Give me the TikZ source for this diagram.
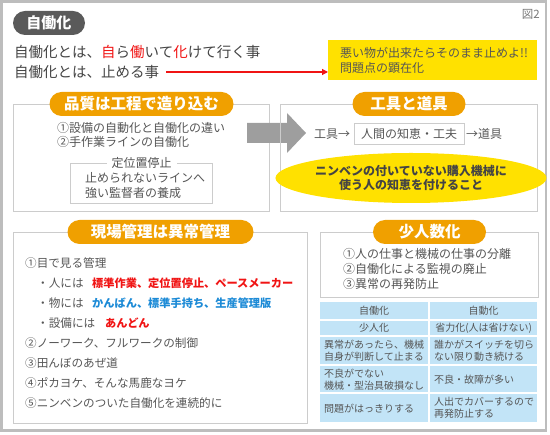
\documentclass[tikz,border=0pt]{standalone}
\usepackage{fontspec}
\setmainfont{Noto Sans CJK JP}
\usetikzlibrary{positioning, arrows.meta, shapes.geometric}

\definecolor{textgray}{HTML}{555555}
\definecolor{framegray}{HTML}{CCCCCC}
\definecolor{outergray}{HTML}{BDBDBD}
\definecolor{pillorange}{HTML}{F0A000}
\definecolor{tagdark}{HTML}{5A5A5A}
\definecolor{warnyellow}{HTML}{FFE100}
\definecolor{cellblue}{HTML}{C2E4F7}
\definecolor{keyred}{HTML}{F01414}
\definecolor{keyblue}{HTML}{1C8AD6}
\definecolor{arrowgray}{HTML}{9E9E9E}

\tikzset{
    sect/.style={draw=framegray, line width=1pt, anchor=north west, inner sep=0},
    pill/.style={
        fill=pillorange,
        rounded corners=12pt,
        minimum height=24pt,
        inner sep=0,
        text=white,
        font=\fontsize{15.5}{16}\selectfont\bfseries
    },
    head/.style={anchor=west, inner sep=0, text=textgray!80!black, font=\fontsize{14.5}{16}\selectfont},
    item/.style={anchor=west, inner sep=0, text=textgray, align=left, font=\fontsize{12}{14.5}\selectfont},
    floortext/.style={item, font=\fontsize{11.6}{14}\selectfont},
    keytext/.style={item, font=\fontsize{11.2}{14}\selectfont\bfseries},
    cell/.style={
        fill=cellblue,
        anchor=north west,
        inner xsep=4pt,
        inner ysep=0,
        text=textgray,
        font=\fontsize{10}{12}\selectfont
    }
}

\begin{document}
\begin{tikzpicture}[x=1pt, y=-1pt]
    \useasboundingbox (0,0) rectangle (550,435);
    \draw[outergray, line width=2.5pt] (1.5,1.5) rectangle (546,430.5);

    % title
    \node[
        fill=tagdark,
        rounded corners=12pt,
        minimum width=72pt,
        minimum height=24pt,
        inner sep=0,
        text=white,
        font=\fontsize{15}{16}\selectfont\bfseries
    ] (tag) at (49,23) {自働化};
    \node[inner sep=0, anchor=east, text=textgray!80, font=\fontsize{11.5}{12}\selectfont] (fig) at (540,14) {図2};
    \node[head] (line1) at (14,52) {自働化とは、\textcolor{keyred}{自}ら\textcolor{keyred}{働}いて\textcolor{keyred}{化}けて行く事};
    \node[head] (line2) at (14,72) {自働化とは、止める事};
    \node[
        fill=warnyellow,
        anchor=north west,
        minimum width=209pt,
        minimum height=40pt,
        text width=185pt,
        inner xsep=12pt,
        align=left,
        text=textgray,
        font=\fontsize{12}{15}\selectfont
    ] (warn) at (328,40) {悪い物が出来たらそのまま止めよ!!\\問題点の顕在化};
    \draw[keyred, line width=1.2pt, -{Triangle[length=6pt, width=6pt]}]
        ([xshift=7pt]line2.east) -- (line2.east -| warn.west);

    % quality
    \node[sect, minimum width=256pt, minimum height=107pt] (quality) at (13,104) {};
    \node[pill, minimum width=184pt] (qualitytag) at (quality.north) {品質は工程で造り込む};
    \node[item] (q1) at (57,128) {①設備の自動化と自働化の違い};
    \node[item] (q2) at (57,142) {②手作業ラインの自働化};
    \node[sect, minimum width=142pt, minimum height=40pt] (stopbox) at (70,163) {};
    \node[item, anchor=center, fill=white, inner xsep=5pt] (stoptag) at (stopbox.north) {定位置停止};
    \node[item] (stop1) at (85,178) {止められないラインへ};
    \node[item] (stop2) at (85,193) {強い監督者の養成};

    % big arrow
    \fill[arrowgray] (247,123) -- (287,123) -- (287,113) -- (306,133)
        -- (287,153) -- (287,143) -- (247,143) -- cycle;

    % tools
    \node[sect, minimum width=257pt, minimum height=107pt] (tools) at (280,104) {};
    \node[pill, minimum width=113pt] (toolstag) at (tools.north) {工具と道具};
    \node[item] (tool) at (314,134) {工具→};
    \node[
        draw=framegray,
        line width=1pt,
        inner xsep=7pt,
        minimum height=21pt,
        text=textgray,
        font=\fontsize{12}{14}\selectfont
    ] (wisdom) at (409,134) {人間の知恵・工夫};
    \node[item] (dougu) at (466,134) {→道具};
    \node[
        ellipse,
        fill=warnyellow,
        minimum width=238pt,
        minimum height=50pt,
        inner sep=0,
        align=center,
        text=textgray!80!black,
        font=\fontsize{12}{14.5}\selectfont\bfseries
    ] (hint) at (411,178) {ニンベンの付いていない購入機械に\\使う人の知恵を付けること};

    % shop floor
    \node[sect, minimum width=294pt, minimum height=191pt] (floor) at (13,232) {};
    \node[pill, minimum width=186pt] (floortag) at (floor.north) {現場管理は異常管理};
    \node[floortext] (f1) at (25,263) {①目で見る管理};
    \node[floortext] (f1a) at (37,283) {・人には};
    \node[keytext, text=keyred] (f1aval) at (92,283) {標準作業、定位置停止、ペースメーカー};
    \node[floortext] (f1b) at (37,303) {・物には};
    \node[keytext, text=keyblue] (f1bval) at (92,303) {かんばん、標準手持ち、生産管理版};
    \node[floortext] (f1c) at (37,323) {・設備には};
    \node[keytext, text=keyred] (f1cval) at (105,323) {あんどん};
    \node[floortext] (f2) at (25,343) {②ノーワーク、フルワークの制御};
    \node[floortext] (f3) at (25,363) {③田んぼのあぜ道};
    \node[floortext] (f4) at (25,383) {④ポカヨケ、そんな馬鹿なヨケ};
    \node[floortext] (f5) at (25,403) {⑤ニンベンのついた自働化を連続的に};

    % fewer people
    \node[sect, minimum width=218pt, minimum height=65pt] (fewer) at (320,232) {};
    \node[pill, minimum width=113pt] (fewertag) at (fewer.north) {少人数化};
    \node[item] (p1) at (343,254) {①人の仕事と機械の仕事の分離};
    \node[item] (p2) at (343,269) {②自働化による監視の廃止};
    \node[item] (p3) at (343,284) {③異常の再発防止};

    % comparison table
    \node[cell, minimum width=108pt, minimum height=17pt] (c11) at (320,302) {自働化};
    \node[cell, minimum width=107pt, minimum height=17pt] (c12) at (430,302) {自動化};
    \node[cell, minimum width=108pt, minimum height=14pt] (c21) at (320,321) {少人化};
    \node[cell, minimum width=107pt, minimum height=14pt] (c22) at (430,321) {省力化(人は省けない)};
    \node[cell, minimum width=108pt, minimum height=27pt, text width=100pt, align=left] (c31) at (320,337) {異常があったら、機械\\自身が判断して止まる};
    \node[cell, minimum width=107pt, minimum height=27pt, text width=99pt, align=left] (c32) at (430,337) {誰かがスイッチを切ら\\ない限り動き続ける};
    \node[cell, minimum width=108pt, minimum height=26pt, text width=100pt, align=left] (c41) at (320,366) {不良がでない\\機械・型治具破損なし};
    \node[cell, minimum width=107pt, minimum height=26pt, text width=99pt, align=left] (c42) at (430,366) {不良・故障が多い};
    \node[cell, minimum width=108pt, minimum height=28pt, text width=100pt, align=left] (c51) at (320,394) {問題がはっきりする};
    \node[cell, minimum width=107pt, minimum height=28pt, text width=99pt, align=left] (c52) at (430,394) {人出でカバーするので\\再発防止する};
\end{tikzpicture}
\end{document}
